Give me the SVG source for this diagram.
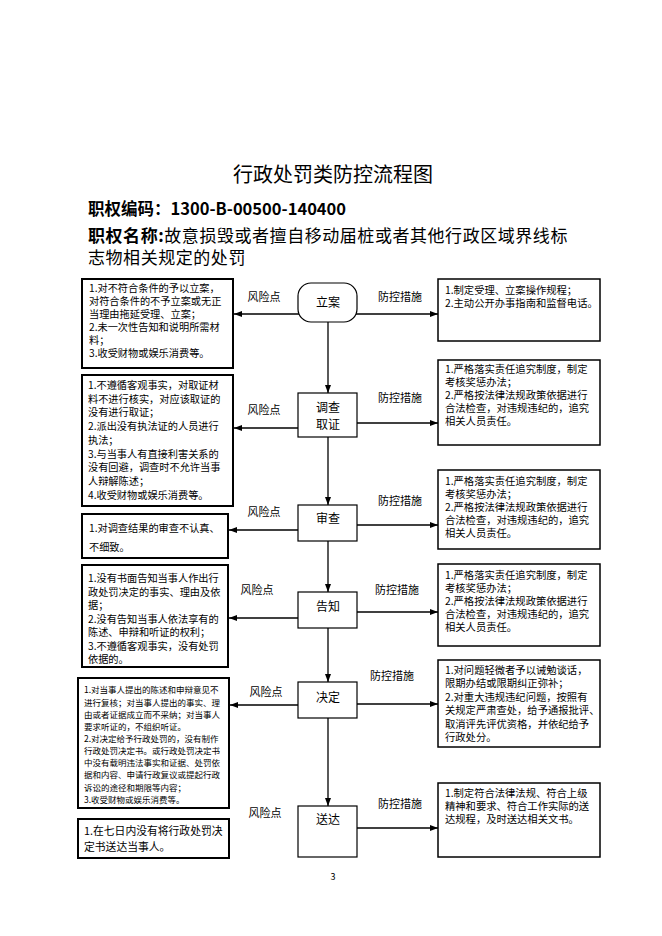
<svg xmlns="http://www.w3.org/2000/svg" width="662" height="936" viewBox="0 0 662 936">
<defs>
<marker id="ah" markerWidth="8" markerHeight="6" refX="8" refY="3" orient="auto" markerUnits="userSpaceOnUse"><path d="M0,0 L8,3 L0,6 z" fill="#000"/></marker>
<style>
.f{font-family:"Noto Sans CJK SC","Noto Sans",sans-serif;fill:#000}
.rb{fill:#fff;stroke:#000;stroke-width:1.5}
.lb{fill:#fff;stroke:#000;stroke-width:2}
.nb{fill:#fff;stroke:#000;stroke-width:1.2}
.rt{font-size:10.3px}
.lt{font-size:10.2px}
.nt{font-size:12px;text-anchor:middle}
.lab{font-size:11px;text-anchor:middle}
.c{stroke:#000;stroke-width:1.3;fill:none;marker-end:url(#ah)}
</style>
</defs>
<rect width="662" height="936" fill="#fff"/>
<g id="header">
<text class="f" x="333" y="182" font-size="20" text-anchor="middle">行政处罚类防控流程图</text>
<text class="f" x="88" y="215" font-size="16.5" font-weight="bold">职权编码：1300-B-00500-140400</text>
<text class="f" x="88" y="242" font-size="17" letter-spacing="0.55"><tspan font-weight="bold">职权名称:</tspan>故意损毁或者擅自移动届桩或者其他行政区域界线标</text>
<text class="f" x="88" y="264" font-size="17" letter-spacing="0.55">志物相关规定的处罚</text>
</g>
<g id="connectors">
<line class="c" x1="328" y1="322" x2="328" y2="393"/>
<line class="c" x1="328" y1="437" x2="328" y2="505"/>
<line class="c" x1="328" y1="541" x2="328" y2="592"/>
<line class="c" x1="328" y1="628" x2="328" y2="682"/>
<line class="c" x1="328" y1="718" x2="328" y2="806"/>
<line class="c" x1="300" y1="314" x2="234" y2="314"/>
<line class="c" x1="298" y1="428" x2="234" y2="428"/>
<line class="c" x1="298" y1="530" x2="229" y2="530"/>
<line class="c" x1="298" y1="618" x2="229" y2="618"/>
<line class="c" x1="298" y1="705" x2="230" y2="705"/>
<line class="c" x1="356" y1="314" x2="438" y2="314"/>
<line class="c" x1="357" y1="423" x2="438" y2="423"/>
<line class="c" x1="357" y1="525" x2="438" y2="525"/>
<line class="c" x1="357" y1="612" x2="438" y2="612"/>
<line class="c" x1="357" y1="704" x2="438" y2="704"/>
<line class="c" x1="357" y1="828" x2="438" y2="828"/>
</g>
<g id="labels">
<text class="f lab" x="264" y="301">风险点</text>
<text class="f lab" x="400" y="301">防控措施</text>
<text class="f lab" x="264" y="414">风险点</text>
<text class="f lab" x="400" y="402">防控措施</text>
<text class="f lab" x="264" y="516">风险点</text>
<text class="f lab" x="400" y="505">防控措施</text>
<text class="f lab" x="257" y="594">风险点</text>
<text class="f lab" x="397" y="594" font-size="10">防控措施</text>
<text class="f lab" x="266" y="696">风险点</text>
<text class="f lab" x="392" y="680">防控措施</text>
<text class="f lab" x="265" y="817">风险点</text>
<text class="f lab" x="400" y="808">防控措施</text>
</g>
<g id="n1"><rect class="nb" x="298" y="283" width="59" height="39" rx="13"/><text class="f nt" x="328" y="307">立案</text></g>
<g id="n2"><rect class="nb" x="298" y="393" width="59" height="44"/><text class="f nt" x="328" y="412">调查</text><text class="f nt" x="328" y="429">取证</text></g>
<g id="n3"><rect class="nb" x="298" y="505" width="59" height="36"/><text class="f nt" x="328" y="523">审查</text></g>
<g id="n4"><rect class="nb" x="298" y="592" width="59" height="36"/><text class="f nt" x="328" y="611">告知</text></g>
<g id="n5"><rect class="nb" x="298" y="682" width="59" height="36"/><text class="f nt" x="328" y="702">决定</text></g>
<g id="n6"><rect class="nb" x="298" y="806" width="59" height="51"/><text class="f nt" x="328" y="824">送达</text></g>
<g id="L1"><rect class="lb" x="82" y="279" width="151" height="89"/>
<text class="f lt" x="89"><tspan x="89" y="292">1.对不符合条件的予以立案，</tspan><tspan x="89" y="305">对符合条件的不予立案或无正</tspan><tspan x="89" y="318">当理由拖延受理、立案；</tspan><tspan x="89" y="331">2.未一次性告知和说明所需材</tspan><tspan x="89" y="344">料；</tspan><tspan x="89" y="357">3.收受财物或娱乐消费等。</tspan></text></g>
<g id="L2"><rect class="lb" x="82" y="375" width="151" height="131"/>
<text class="f lt" x="88"><tspan x="88" y="389">1.不遵循客观事实，对取证材</tspan><tspan x="88" y="403">料不进行核实，对应该取证的</tspan><tspan x="88" y="416">没有进行取证；</tspan><tspan x="88" y="430">2.派出没有执法证的人员进行</tspan><tspan x="88" y="444">执法；</tspan><tspan x="88" y="458">3.与当事人有直接利害关系的</tspan><tspan x="88" y="471">没有回避，调查时不允许当事</tspan><tspan x="88" y="485">人辩解陈述；</tspan><tspan x="88" y="499">4.收受财物或娱乐消费等。</tspan></text></g>
<g id="L3"><rect class="lb" x="82" y="514" width="146" height="44"/>
<text class="f lt" x="89"><tspan x="89" y="532">1.对调查结果的审查不认真、</tspan><tspan x="89" y="551">不细致。</tspan></text></g>
<g id="L4"><rect class="lb" x="82" y="565" width="146" height="102"/>
<text class="f lt" x="88"><tspan x="88" y="582">1.没有书面告知当事人作出行</tspan><tspan x="88" y="596">政处罚决定的事实、理由及依</tspan><tspan x="88" y="609">据；</tspan><tspan x="88" y="623">2.没有告知当事人依法享有的</tspan><tspan x="88" y="636">陈述、申辩和听证的权利；</tspan><tspan x="88" y="650">3.不遵循客观事实，没有处罚</tspan><tspan x="88" y="663">依据的。</tspan></text></g>
<g id="L5"><rect class="lb" x="78" y="678" width="151" height="130"/>
<text class="f" font-size="8.5" x="84"><tspan x="84" y="693">1.对当事人提出的陈述和申辩意见不</tspan><tspan x="84" y="706">进行复核；对当事人提出的事实、理</tspan><tspan x="84" y="718">由或者证据成立而不采纳；对当事人</tspan><tspan x="84" y="730">要求听证的，不组织听证。</tspan><tspan x="84" y="742">2.对决定给予行政处罚的，没有制作</tspan><tspan x="84" y="754">行政处罚决定书。或行政处罚决定书</tspan><tspan x="84" y="766">中没有载明违法事实和证据、处罚依</tspan><tspan x="84" y="778">据和内容、申请行政复议或提起行政</tspan><tspan x="84" y="791">诉讼的途径和期限等内容；</tspan><tspan x="84" y="803">3.收受财物或娱乐消费等。</tspan></text></g>
<g id="L6"><rect class="lb" x="78" y="819" width="151" height="39"/>
<text class="f" font-size="10.8" x="84"><tspan x="84" y="835">1.在七日内没有将行政处罚决</tspan><tspan x="84" y="851">定书送达当事人。</tspan></text></g>
<g id="R1"><rect class="rb" x="438" y="279" width="162" height="62"/>
<text class="f rt" x="445"><tspan x="445" y="294">1.制定受理、立案操作规程；</tspan><tspan x="445" y="307">2.主动公开办事指南和监督电话。</tspan></text></g>
<g id="R2"><rect class="rb" x="438" y="360" width="162" height="85"/>
<text class="f rt" x="445"><tspan x="445" y="373">1.严格落实责任追究制度，制定</tspan><tspan x="445" y="386">考核奖惩办法；</tspan><tspan x="445" y="399">2.严格按法律法规政策依据进行</tspan><tspan x="445" y="412">合法检查，对违规违纪的，追究</tspan><tspan x="445" y="425">相关人员责任。</tspan></text></g>
<g id="R3"><rect class="rb" x="438" y="470" width="162" height="79"/>
<text class="f rt" x="445"><tspan x="445" y="485">1.严格落实责任追究制度，制定</tspan><tspan x="445" y="498">考核奖惩办法；</tspan><tspan x="445" y="511">2.严格按法律法规政策依据进行</tspan><tspan x="445" y="524">合法检查，对违规违纪的，追究</tspan><tspan x="445" y="537">相关人员责任。</tspan></text></g>
<g id="R4"><rect class="rb" x="438" y="564" width="162" height="82"/>
<text class="f rt" x="445"><tspan x="445" y="579">1.严格落实责任追究制度，制定</tspan><tspan x="445" y="592">考核奖惩办法；</tspan><tspan x="445" y="605">2.严格按法律法规政策依据进行</tspan><tspan x="445" y="618">合法检查，对违规违纪的，追究</tspan><tspan x="445" y="631">相关人员责任。</tspan></text></g>
<g id="R5"><rect class="rb" x="438" y="660" width="162" height="87"/>
<text class="f rt" x="445"><tspan x="445" y="674">1.对问题轻微者予以诫勉谈话，</tspan><tspan x="445" y="687">限期办结或限期纠正弥补；</tspan><tspan x="445" y="701">2.对重大违规违纪问题，按照有</tspan><tspan x="445" y="714">关规定严肃查处，给予通报批评、</tspan><tspan x="445" y="728">取消评先评优资格，并依纪给予</tspan><tspan x="445" y="741">行政处分。</tspan></text></g>
<g id="R6"><rect class="rb" x="438" y="783" width="162" height="74"/>
<text class="f rt" x="445"><tspan x="445" y="797">1.制定符合法律法规、符合上级</tspan><tspan x="445" y="810">精神和要求、符合工作实际的送</tspan><tspan x="445" y="823">达规程，及时送达相关文书。</tspan></text></g>
<text class="f" x="333" y="880" font-size="9" text-anchor="middle">3</text>
</svg>
